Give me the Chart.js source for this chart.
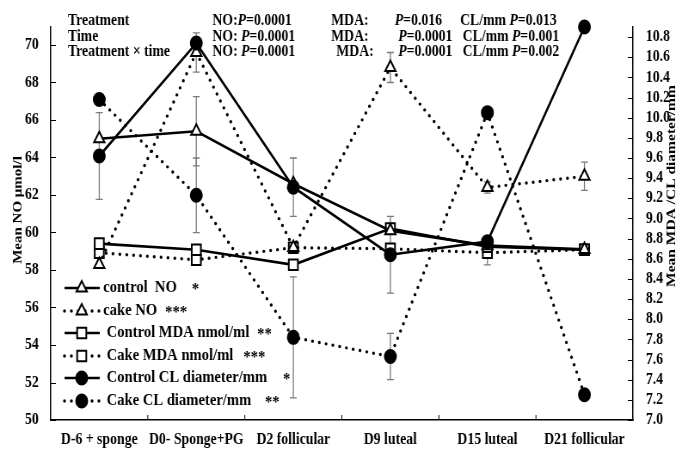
<!DOCTYPE html>
<html>
<head>
<meta charset="utf-8">
<script src="https://cdn.jsdelivr.net/npm/chart.js@4.4.0/dist/chart.umd.min.js"></script>
<style>
  html, body { margin: 0; padding: 0; overflow: hidden; background: #fff; }
  /* the figure is drawn a little wider and squeezed horizontally */
  #wrap { width: 794px; height: 450px; transform: scaleX(0.86); transform-origin: 0 0; }
</style>
</head>
<body>
<div id="wrap"><canvas id="c" width="794" height="450"></canvas></div>
<script>
// ---- data ----
const days = ['D-6 + sponge', 'D0- Sponge+PG', 'D2 follicular', 'D9 luteal', 'D15 luteal', 'D21 follicular'];

// NO, µmol/l (left axis)
const controlNO = [65.0, 65.4, 62.6, 60.1, 59.3, 59.1];
const cakeNO    = [58.3, 69.6, 59.2, 68.8, 62.4, 63.0];
// MDA, nmol/ml and CL diameter, mm (right axis)
const controlMDA = [8.75, 8.69, 8.54, 8.90, 8.72, 8.69];
const cakeMDA    = [8.66, 8.59, 8.71, 8.70, 8.66, 8.69];
const controlCL  = [9.62, 10.74, 9.31, 8.64, 8.77, 10.90];
const cakeCL     = [10.18, 9.23, 7.82, 7.63, 10.05, 7.25];

// standard errors (null where no bar is drawn)
const controlNOErr  = [null, 1.85, null, null, null, null];
const cakeNOErr     = [null, 1.05, null, 0.8, 0.3, 0.75];
const controlMDAErr = [null, null, null, null, null, null];
const cakeMDAErr    = [null, null, null, null, 0.12, null];
const controlCLErr  = [0.43, null, 0.29, 0.38, null, null];
const cakeCLErr     = [null, 0.37, 0.6, 0.23, null, null];

const noTicks = [50, 52, 54, 56, 58, 60, 62, 64, 66, 68, 70];
const rightTicks = [7.0, 7.2, 7.4, 7.6, 7.8, 8.0, 8.2, 8.4, 8.6, 8.8, 9.0, 9.2, 9.4, 9.6, 9.8, 10.0, 10.2, 10.4, 10.6, 10.8];

const seriesLabels = ['control  NO', 'cake NO', 'Control MDA nmol/ml', 'Cake MDA nmol/ml', 'Control CL diameter/mm', 'Cake CL diameter/mm'];
const significance = ['*', '***', '**', '***', '*', '**'];

const effectNames = ['Treatment', 'Time', 'Treatment \u00d7 time'];
const noP  = ['0.0001', '0.0001', '0.0001'];
const mdaP = ['0.016', '0.0001', '0.0001'];
const clP  = ['0.013', '0.001', '0.002'];

const leftTitle = 'Mean NO \u03bcmol/l';
const rightTitle = 'Mean MDA /CL diameter/mm';

// ---- drawing ----
const SERIF = '"Liberation Serif", "Times New Roman", serif';
const fnt = (size, italic) => (italic ? 'italic ' : '') + 'bold ' + size + 'px ' + SERIF;

function series(i, data, errors, axis, style, dotted, order) {
  return {
    label: seriesLabels[i],
    data: data,
    errors: errors,
    yAxisID: axis,
    order: order,
    borderColor: '#000',
    backgroundColor: '#fff',
    borderWidth: dotted ? 3.4 : 2.6,
    borderDash: dotted ? [0, 8] : [],
    borderCapStyle: dotted ? 'round' : 'butt',
    pointStyle: style,
    pointRadius: style === 'circle' ? 6.5 : (style === 'rect' ? 7.5 : 7),
    pointHoverRadius: style === 'circle' ? 6.5 : (style === 'rect' ? 7.5 : 7),
    pointBackgroundColor: style === 'circle' ? '#000' : '#fff',
    pointBorderColor: '#000',
    pointBorderWidth: 2,
    tension: 0,
    fill: false,
    clip: false
  };
}

const datasets = [
  series(0, controlNO, controlNOErr, 'y', 'triangle', false, 1),
  series(1, cakeNO, cakeNOErr, 'y', 'triangle', true, 1),
  series(2, controlMDA, controlMDAErr, 'y1', 'rect', false, 2),
  series(3, cakeMDA, cakeMDAErr, 'y1', 'rect', true, 2),
  series(4, controlCL, controlCLErr, 'y1', 'circle', false, 0),
  series(5, cakeCL, cakeCLErr, 'y1', 'circle', true, 0)
];

function marker(ctx, style, r, x, y, filled) {
  ctx.beginPath();
  if (style === 'triangle') {
    ctx.moveTo(x, y - r);
    ctx.lineTo(x + r * 0.866, y + r * 0.5);
    ctx.lineTo(x - r * 0.866, y + r * 0.5);
    ctx.closePath();
  } else if (style === 'rect') {
    const s = r * Math.SQRT1_2;
    ctx.rect(x - s, y - s, 2 * s, 2 * s);
  } else {
    ctx.arc(x, y, r, 0, Math.PI * 2);
  }
  ctx.fillStyle = filled ? '#000' : '#fff';
  ctx.fill();
  ctx.lineWidth = 2;
  ctx.strokeStyle = '#000';
  ctx.stroke();
}

const extras = {
  id: 'extras',
  beforeDatasetsDraw(chart) {
    // error bars
    const ctx = chart.ctx;
    ctx.save();
    ctx.strokeStyle = '#7a7a7a';
    ctx.lineWidth = 1.3;
    chart.data.datasets.forEach((ds, i) => {
      const meta = chart.getDatasetMeta(i);
      const ys = chart.scales[ds.yAxisID];
      (ds.errors || []).forEach((e, j) => {
        if (e == null) return;
        const x = meta.data[j].x;
        const top = ys.getPixelForValue(ds.data[j] + e);
        const bot = ys.getPixelForValue(ds.data[j] - e);
        ctx.beginPath();
        ctx.moveTo(x, top); ctx.lineTo(x, bot);
        ctx.moveTo(x - 4, top); ctx.lineTo(x + 4, top);
        ctx.moveTo(x - 4, bot); ctx.lineTo(x + 4, bot);
        ctx.stroke();
      });
    });
    ctx.restore();
  },
  afterDraw(chart) {
    const ctx = chart.ctx;
    const ca = chart.chartArea;
    ctx.save();

    // inward tick marks
    ctx.strokeStyle = '#000';
    ctx.lineWidth = 1;
    ctx.beginPath();
    chart.scales.y.ticks.forEach(t => {
      const y = Math.round(chart.scales.y.getPixelForValue(t.value)) + 0.5;
      ctx.moveTo(ca.left, y); ctx.lineTo(ca.left + 6, y);
    });
    chart.scales.y1.ticks.forEach(t => {
      const y = Math.round(chart.scales.y1.getPixelForValue(t.value)) + 0.5;
      ctx.moveTo(ca.right - 6, y); ctx.lineTo(ca.right, y);
    });
    const xs = chart.scales.x;
    for (let i = 0; i < days.length - 1; i++) {
      const x = (xs.getPixelForValue(i) + xs.getPixelForValue(i + 1)) / 2;
      ctx.moveTo(x, ca.bottom); ctx.lineTo(x, ca.bottom - 5);
    }
    ctx.stroke();

    // axis titles
    ctx.fillStyle = '#000';
    ctx.textAlign = 'center';
    ctx.textBaseline = 'middle';
    ctx.save();
    ctx.translate(21, 210);
    ctx.rotate(-Math.PI / 2);
    ctx.font = fnt(15);
    ctx.fillText(leftTitle, 0, 0);
    ctx.restore();
    ctx.save();
    ctx.translate(781, 186);
    ctx.rotate(-Math.PI / 2);
    ctx.font = fnt(15.5);
    ctx.fillText(rightTitle, 0, 0);
    ctx.restore();

    // statistics block
    ctx.textAlign = 'left';
    const rowY = [21, 37, 52];
    const put = (txt, x, y, italic) => {
      ctx.font = fnt(16, italic);
      ctx.fillText(txt, x, y);
      return x + ctx.measureText(txt).width;
    };
    const withP = (prefix, val, x, y) => {
      let cx = prefix ? put(prefix, x, y) : x;
      cx = put('P', cx, y, true);
      put('=' + val, cx, y);
    };
    effectNames.forEach((name, r) => {
      const y = rowY[r];
      put(name, 79, y);
      withP(r === 0 ? 'NO:' : 'NO: ', noP[r], 247, y);
      put('MDA:', r === 2 ? 391 : 385, y);
      withP('', mdaP[r], r === 0 ? 459 : 463, y);
      withP('CL/mm ', clP[r], r === 0 ? 535 : 538, y);
    });

    // legend
    const legY = [288, 311, 333, 356, 378, 401];
    const starX = [223, 192, 299, 283, 329, 308];
    chart.data.datasets.forEach((ds, i) => {
      const y = legY[i];
      ctx.save();
      ctx.strokeStyle = '#000';
      ctx.lineWidth = ds.borderWidth;
      ctx.lineCap = ds.borderCapStyle;
      ctx.setLineDash(ds.borderDash);
      ctx.beginPath();
      ctx.moveTo(75, y); ctx.lineTo(116, y);
      ctx.stroke();
      ctx.restore();
      marker(ctx, ds.pointStyle, ds.pointRadius, 95, y, ds.pointStyle === 'circle');
      ctx.fillStyle = '#000';
      ctx.textBaseline = 'middle';
      ctx.font = fnt(17);
      const tx = i < 2 ? 120 : 124;
      ctx.fillText(ds.label, tx, y);
      const end = tx + ctx.measureText(ds.label).width + 6;
      ctx.fillText(significance[i], Math.max(starX[i], end), y + 2);
    });

    ctx.restore();
  }
};

new Chart(document.getElementById('c'), {
  type: 'line',
  data: { labels: days, datasets: datasets },
  options: {
    responsive: false,
    animation: false,
    events: [],
    layout: { padding: { top: 27, left: 0, right: 0, bottom: 0 } },
    plugins: { legend: { display: false }, tooltip: { enabled: false } },
    scales: {
      x: {
        type: 'category',
        offset: true,
        grid: { display: false, drawTicks: false },
        border: { display: true, color: '#000', width: 1.5 },
        ticks: { color: '#000', font: { family: SERIF, size: 16, weight: 'bold' }, padding: 10, maxRotation: 0, autoSkip: false },
        afterFit: s => { s.height = 30; }
      },
      y: {
        position: 'left',
        min: 50,
        max: 70.96,
        afterBuildTicks: s => { s.ticks = noTicks.map(v => ({ value: v })); },
        grid: { display: false, drawTicks: false },
        border: { display: true, color: '#000', width: 1.5 },
        ticks: { color: '#000', font: { family: SERIF, size: 16, weight: 'bold' }, padding: 14, autoSkip: false },
        afterFit: s => { s.width = 59; }
      },
      y1: {
        position: 'right',
        min: 7,
        max: 10.9,
        afterBuildTicks: s => { s.ticks = rightTicks.map(v => ({ value: v })); },
        grid: { display: false, drawTicks: false },
        border: { display: true, color: '#000', width: 1.5 },
        ticks: { color: '#000', font: { family: SERIF, size: 16, weight: 'bold' }, padding: 15, autoSkip: false, callback: v => Number(v).toFixed(1) },
        afterFit: s => { s.width = 58; }
      }
    }
  },
  plugins: [extras]
});
</script>
</body>
</html>
